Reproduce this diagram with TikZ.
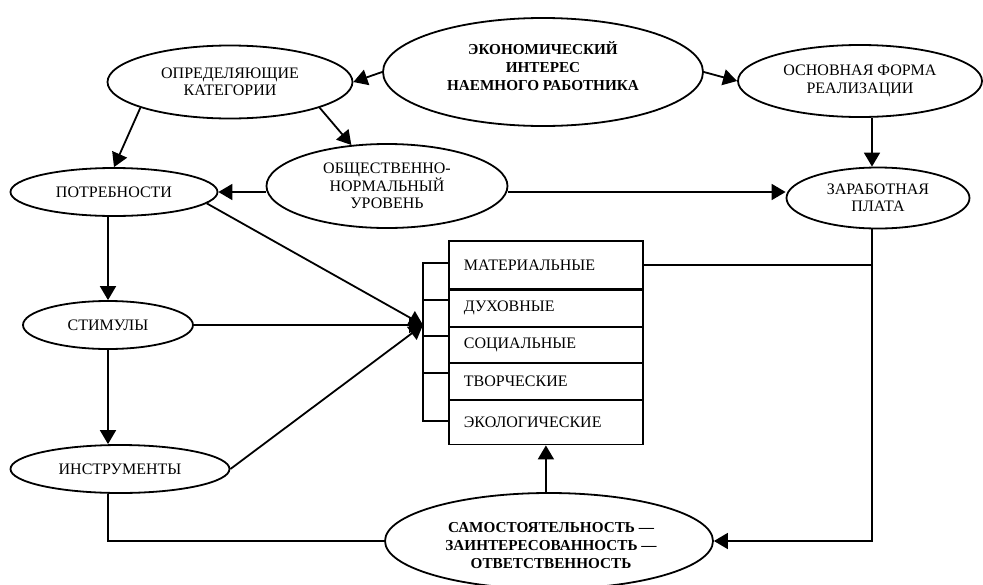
\documentclass[tikz,border=0pt]{standalone}
\usepackage{fontspec}
\setmainfont{Liberation Serif}
\usetikzlibrary{shapes.geometric,arrows.meta,calc}
\begin{document}
\begin{tikzpicture}[x=1pt,y=-1pt,
  txt/.style={font=\fontsize{16}{17.5}\selectfont},
  bold/.style={font=\fontsize{15.2}{18}\selectfont\bfseries},
  ell/.style={draw, ellipse, line width=1.8pt, inner sep=0pt, align=center, txt},
  arr/.style={line width=1.8pt, -{Triangle[length=14pt,width=16pt]}},
  ln/.style={line width=1.8pt},
  rowbox/.style={draw, rectangle, line width=1.8pt, anchor=north west, minimum width=194pt, text width=164pt, inner xsep=15pt, inner ysep=0pt, align=left, txt}
]
\fill[white] (0,0) rectangle (983,584);
\useasboundingbox (0,0) rectangle (983,584);

% ellipses
\node[ell, minimum width=320pt, minimum height=108pt] (eco) at (543,72) {};
\node[bold, align=center] (ecot) at (543,66) {ЭКОНОМИЧЕСКИЙ\\ИНТЕРЕС\\НАЕМНОГО РАБОТНИКА};
\node[ell, minimum width=245pt, minimum height=73pt] (opr) at (230,82) {ОПРЕДЕЛЯЮЩИЕ\\КАТЕГОРИИ};
\node[ell, minimum width=244pt, minimum height=72pt] (osn) at (860,81) {ОСНОВНАЯ ФОРМА\\РЕАЛИЗАЦИИ};
\node[ell, minimum width=207pt, minimum height=48pt] (potr) at (114,192) {ПОТРЕБНОСТИ};
\node[ell, minimum width=241pt, minimum height=84pt] (obs) at (387,186) {ОБЩЕСТВЕННО-\\НОРМАЛЬНЫЙ\\УРОВЕНЬ};
\node[ell, minimum width=183pt, minimum height=61pt] (zar) at (878,198) {ЗАРАБОТНАЯ\\ПЛАТА};
\node[ell, minimum width=170pt, minimum height=48pt] (stim) at (108,325) {СТИМУЛЫ};
\node[ell, minimum width=219pt, minimum height=48pt] (instr) at (120,469) {ИНСТРУМЕНТЫ};
\node[ell, minimum width=328pt, minimum height=96pt] (sam) at (549,541) {};
\node[bold, align=center] (samt) at (551,546) {САМОСТОЯТЕЛЬНОСТЬ —\\ЗАИНТЕРЕСОВАННОСТЬ —\\ОТВЕТСТВЕННОСТЬ};

% list box
\node[rowbox, minimum height=48pt] (mat) at (448,240) {МАТЕРИАЛЬНЫЕ};
\node[rowbox, minimum height=37pt] (duh) at (448,288.9) {ДУХОВНЫЕ};
\node[rowbox, minimum height=36pt] (soc) at (448,325.8) {СОЦИАЛЬНЫЕ};
\node[rowbox, minimum height=37pt] (tvo) at (448,361.7) {ТВОРЧЕСКИЕ};
\node[rowbox, minimum height=45pt] (eko) at (448,398.6) {ЭКОЛОГИЧЕСКИЕ};

% helper coordinates
\coordinate (vx) at (872,300);
\coordinate (tip) at (423,325);

% bracket
\draw[ln] (448,263) -| (423,421) -- (448,421);
\draw[ln] (423,300) -- (448,300);
\draw[ln] (423,336) -- (448,336);
\draw[ln] (423,373) -- (448,373);

% connectors
\draw[arr] (eco.west) -- (opr.east);
\draw[arr] (eco.east) -- (osn.west);
\draw[arr] (opr.196) -- (potr.north);
\draw[arr] (opr.344) -- (obs.131);
\draw[arr] (obs.west |- potr.east) -- (potr.east);
\draw[arr] (obs.east |- potr.east) -- (zar.west |- potr.east);
\draw[arr] (osn.south -| vx) -- (zar.north -| vx);
\draw[arr] (zar.south -| vx) |- (sam.east);
\draw[ln] (mat.east) -- (mat.east -| vx);
\draw[arr] (potr.south -| stim.north) -- (stim.north);
\draw[arr] (stim.south) -- (instr.north -| stim.south);
\draw[arr] (potr.-7) -- (tip);
\draw[arr] (stim.east) -- (tip);
\draw[arr] (instr.east) -- (tip);
\draw[ln] (instr.south -| stim.south) |- (sam.west);
\draw[arr] (sam.north -| eko.south) -- (eko.south);
\end{tikzpicture}
\end{document}
